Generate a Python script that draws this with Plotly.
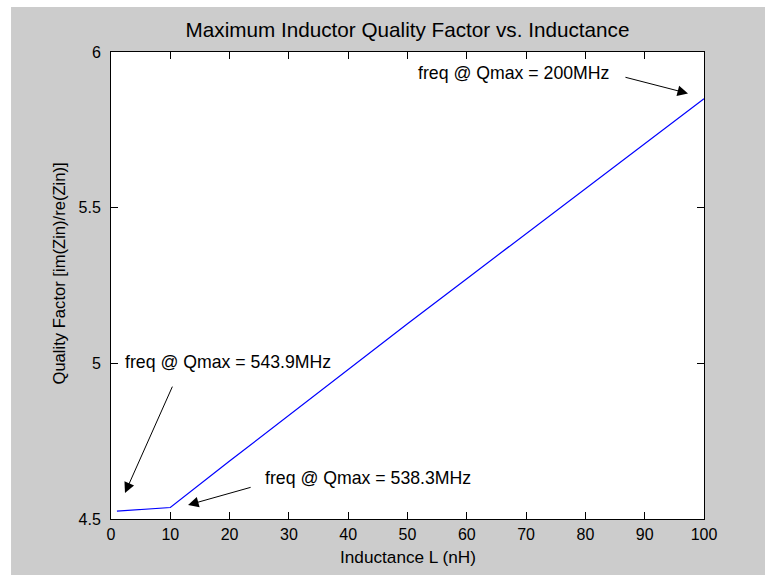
import plotly.graph_objects as go

# Maximum quality factor of the inductor as a function of inductance
inductance_nh = [1, 10, 20, 30, 40, 50, 60, 70, 80, 90, 100]
q_max = [4.525, 4.537, 4.686, 4.834, 4.981, 5.127, 5.272, 5.416, 5.560, 5.705, 5.850]

x_ticks = [0, 10, 20, 30, 40, 50, 60, 70, 80, 90, 100]
y_ticks = [4.5, 5.0, 5.5, 6.0]
y_tick_text = ["4.5", "5", "5.5", "6"]

# Callouts: text anchor (left, middle) and arrow tail -> head, in data units
callout_text = ["freq @ Qmax = 200MHz", "freq @ Qmax = 543.9MHz", "freq @ Qmax = 538.3MHz"]
callout_text_x = [51.4, 1.95, 25.6]
callout_text_y = [5.9325, 5.004, 4.632]
arrow_tail_x = [86.5, 10.46, 23.8]
arrow_tail_y = [5.920, 4.930, 4.603]
arrow_head_x = [97.3, 2.36, 13.0]
arrow_head_y = [5.867, 4.5835, 4.545]

FONT = "Liberation Sans, Arial, sans-serif"
FIG_GRAY = "#cccccc"

fig = go.Figure()
fig.add_trace(go.Scatter(
    x=inductance_nh, y=q_max, mode="lines",
    line=dict(color="#0000ff", width=1.2),
    showlegend=False, hoverinfo="skip",
))

annotations = []
for t, tx, ty in zip(callout_text, callout_text_x, callout_text_y):
    annotations.append(dict(
        x=tx, y=ty, xref="x", yref="y", text=t, showarrow=False,
        xanchor="left", yanchor="middle",
        font=dict(family=FONT, size=17.7, color="#000000"),
    ))
for hx, hy, tx, ty in zip(arrow_head_x, arrow_head_y, arrow_tail_x, arrow_tail_y):
    annotations.append(dict(
        x=hx, y=hy, xref="x", yref="y", ax=tx, ay=ty, axref="x", ayref="y",
        text="", showarrow=True, arrowhead=2, arrowsize=2.1, arrowwidth=1,
        arrowcolor="#000000", standoff=0, startstandoff=0,
    ))

# Axis titles
annotations.append(dict(
    x=0.5, y=-0.0814, xref="paper", yref="paper", text="Inductance L (nH)",
    showarrow=False, xanchor="center", yanchor="middle",
    font=dict(family=FONT, size=17.2, color="#000000"),
))
annotations.append(dict(
    x=-0.0885, y=0.5246, xref="paper", yref="paper",
    text="Quality Factor [im(Zin)/re(Zin)]", textangle=-90,
    showarrow=False, xanchor="center", yanchor="middle",
    font=dict(family=FONT, size=16.6, color="#000000"),
))

# White border strips along the top and left edges of the figure
shapes = [
    dict(type="rect", xref="paper", yref="paper", x0=-0.20, x1=1.2,
         y0=1.0964, y1=1.13, fillcolor="#ffffff", line=dict(width=0), layer="below"),
    dict(type="rect", xref="paper", yref="paper", x0=-0.20, x1=-0.1686,
         y0=-0.13, y1=1.13, fillcolor="#ffffff", line=dict(width=0), layer="below"),
]

axis_common = dict(
    showline=True, linecolor="#000000", linewidth=1, mirror="ticks",
    ticks="inside", ticklen=7, tickcolor="#000000", tickwidth=1,
    showgrid=False, zeroline=False,
    tickfont=dict(family=FONT, size=16, color="#000000"),
)

fig.update_layout(
    width=765, height=575,
    margin=dict(l=111, r=61, t=52, b=56),
    paper_bgcolor=FIG_GRAY, plot_bgcolor="#ffffff",
    title=dict(
        text="Maximum Inductor Quality Factor vs. Inductance",
        x=0.5, xref="paper", xanchor="center",
        y=1 - 30 / 575, yref="container", yanchor="middle",
        font=dict(family=FONT, size=20.7, color="#000000"),
    ),
    xaxis=dict(range=[0, 100], tickvals=x_ticks, ticklabelstandoff=1, **axis_common),
    yaxis=dict(range=[4.5, 6], tickvals=y_ticks, ticktext=y_tick_text,
               ticklabelstandoff=6, **axis_common),
    annotations=annotations,
    shapes=shapes,
    showlegend=False,
)

fig.write_html("out.html")
